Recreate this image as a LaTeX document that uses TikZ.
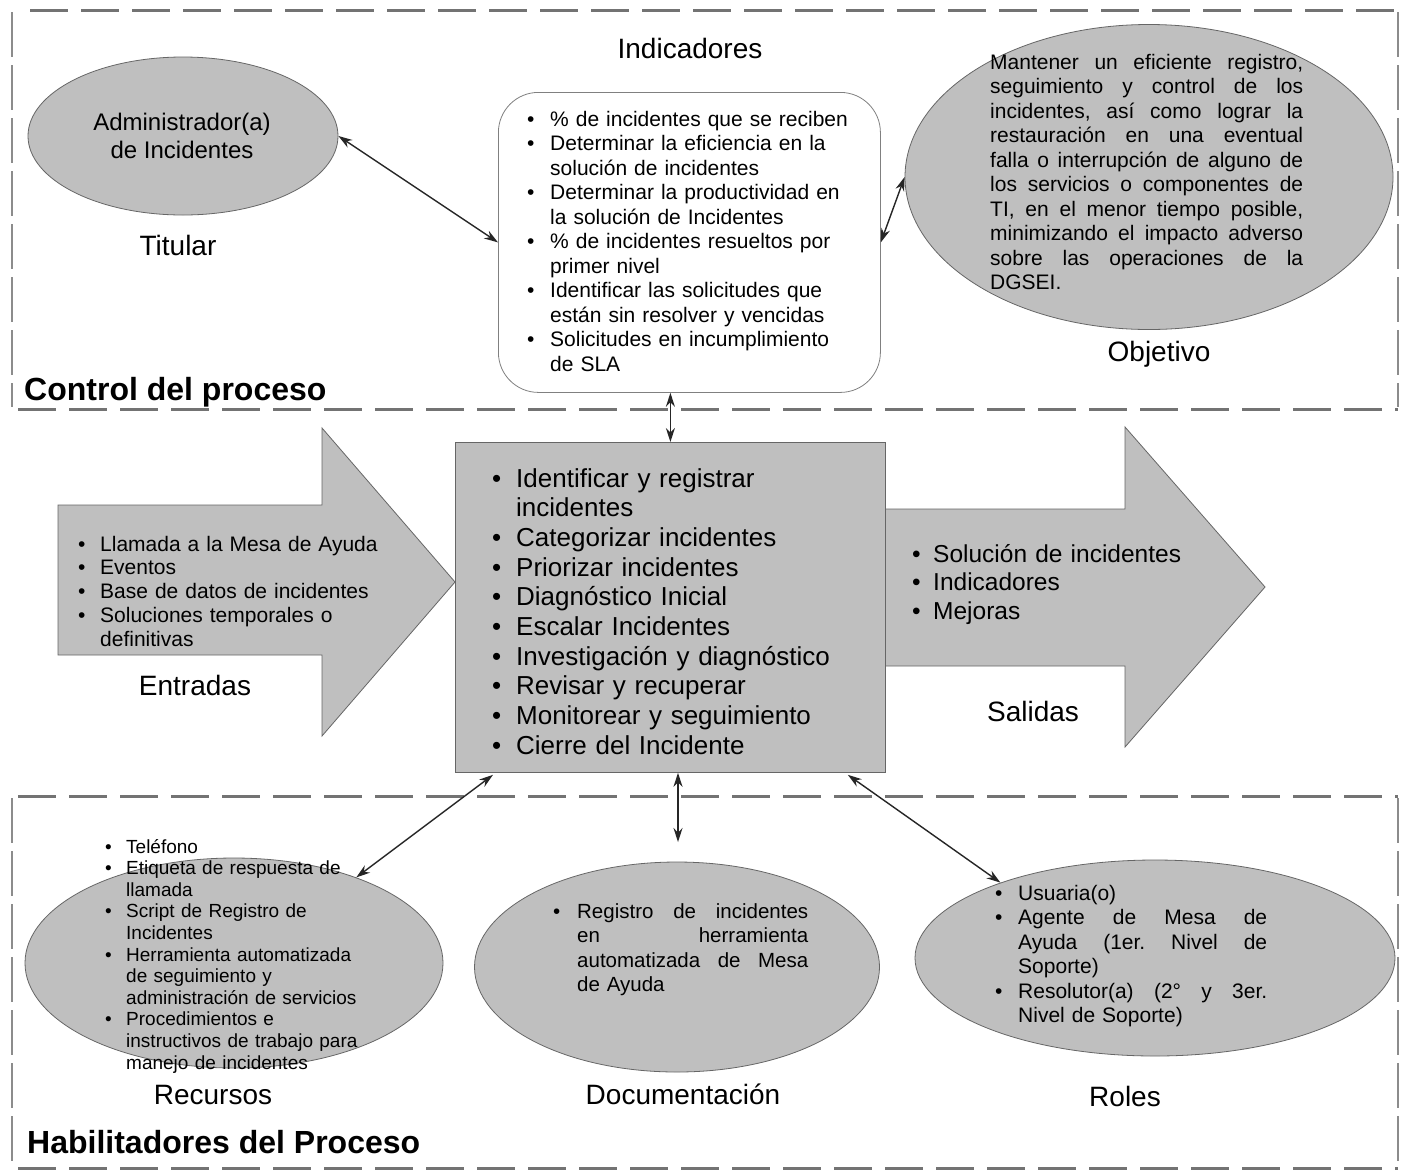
\documentclass[tikz,border=0pt]{standalone}
\usepackage{fontspec}
\setmainfont{Liberation Sans}
\usetikzlibrary{arrows.meta,shapes.geometric,calc}
\newcommand\bu[1]{\makebox[#1][l]{\textbullet}}
\newcommand\hind[1]{\hspace*{#1}}
\newcommand\fs[2]{\fontsize{#1}{#2}\selectfont}
\newcommand\jline[2]{{\frenchspacing\spaceskip=0pt\relax\xspaceskip=0pt\relax\makebox[#1][s]{#2}}}
\begin{document}
\begin{tikzpicture}[x=1pt,y=-1pt,
  shade/.style={fill=black!25,draw=black!60,line width=0.8pt},
  frameh/.style={draw=black!55,line width=3pt,dash pattern=on 38pt off 13pt},
  framev/.style={draw=black!45,line width=1.6pt,dash pattern=on 45pt off 8pt},
  link/.style={{Stealth[length=14pt,width=9pt]}-{Stealth[length=14pt,width=9pt]},line width=1.4pt,draw=black!85},
  lbl/.style={font=\fs{28}{32},inner sep=0pt},
  txt/.style={inner sep=0pt,anchor=base west,align=left},
  ttl/.style={inner sep=0pt,anchor=base west,font=\bfseries\fs{32}{36}},
]
\useasboundingbox (0,0) rectangle (1407,1171);
\fill[white] (0,0) rectangle (1407,1171);

% ---------- frames
\draw[frameh] (30,10) -- (1398,10);
\draw[frameh] (18,409) -- (1398,409);
\draw[framev] (12,12) -- (12,407);
\draw[framev] (1398,12) -- (1398,407);
\draw[frameh] (18,796) -- (1398,796);
\draw[frameh] (18,1168) -- (1398,1168);
\draw[framev] (12,798) -- (12,1166);
\draw[framev] (1398,798) -- (1398,1166);

% ---------- control section
\node[shade,ellipse,minimum width=310pt,minimum height=158pt,inner sep=0pt] (adm) at (183,136) {};
\node[font=\fs{24}{28},align=center,inner sep=0pt] (admt) at (182,136) {Administrador(a)\\de Incidentes};
\node[lbl] (titl) at (178,245) {Titular};

\node[lbl] (indl) at (690,48) {Indicadores};
\node[draw=black!50,line width=0.8pt,rounded corners=40pt,minimum width=382pt,minimum height=300pt,anchor=north west,inner sep=0pt] (ind) at (498,92) {};
\node[txt,font=\fs{21}{24.5},text width=360pt] (indt) at (527,126) {%
\bu{23pt}\% de incidentes que se reciben\\
\bu{23pt}Determinar la eficiencia en la\\
\hind{23pt}solución de incidentes\\
\bu{23pt}Determinar la productividad en\\
\hind{23pt}la solución de Incidentes\\
\bu{23pt}\% de incidentes resueltos por\\
\hind{23pt}primer nivel\\
\bu{23pt}Identificar las solicitudes que\\
\hind{23pt}están sin resolver y vencidas\\
\bu{23pt}Solicitudes en incumplimiento\\
\hind{23pt}de SLA};

\node[shade,ellipse,minimum width=488pt,minimum height=305pt,inner sep=0pt] (obj) at (1149,177) {};
\node[txt,font=\fs{21}{24.5},text width=330pt] (objt) at (990,69) {%
\jline{313pt}{Mantener un eficiente registro,}\\
\jline{313pt}{seguimiento y control de los}\\
\jline{313pt}{incidentes, así como lograr la}\\
\jline{313pt}{restauración en una eventual}\\
\jline{313pt}{falla o interrupción de alguno de}\\
\jline{313pt}{los servicios o componentes de}\\
\jline{313pt}{TI, en el menor tiempo posible,}\\
\jline{313pt}{minimizando el impacto adverso}\\
\jline{313pt}{sobre las operaciones de la}\\
DGSEI.};
\node[lbl] (objl) at (1159,354) {Objetivo};

\node[ttl] (ctl) at (24,400) {Control del proceso};

% ---------- process row
\draw[shade] (58,505) -- (322,505) -- (322,428) -- (455,582) -- (322,736) -- (322,655) -- (58,655) -- cycle;
\draw[shade] (885,509) -- (1125,509) -- (1125,427) -- (1265,587) -- (1125,747) -- (1125,666) -- (885,666) -- cycle;
\node[shade,rectangle,minimum width=430pt,minimum height=330pt,anchor=north west,inner sep=0pt] (proc) at (455,442) {};

\node[txt,font=\fs{21}{23.8},text width=320pt] (entt) at (78,551) {%
\bu{22pt}Llamada a la Mesa de Ayuda\\
\bu{22pt}Eventos\\
\bu{22pt}Base de datos de incidentes\\
\bu{22pt}Soluciones temporales o\\
\hind{22pt}definitivas};
\node[lbl] (entl) at (195,685) {Entradas};

\node[txt,font=\fs{26}{29.7},text width=420pt] (proct) at (492,487) {%
\bu{24pt}Identificar y registrar\\
\hind{24pt}incidentes\\
\bu{24pt}Categorizar incidentes\\
\bu{24pt}Priorizar incidentes\\
\bu{24pt}Diagnóstico Inicial\\
\bu{24pt}Escalar Incidentes\\
\bu{24pt}Investigación y diagnóstico\\
\bu{24pt}Revisar y recuperar\\
\bu{24pt}Monitorear y seguimiento\\
\bu{24pt}Cierre del Incidente};

\node[txt,font=\fs{24.5}{28.5},text width=320pt] (salt) at (912,562) {%
\bu{21pt}Solución de incidentes\\
\bu{21pt}Indicadores\\
\bu{21pt}Mejoras};
\node[lbl] (sall) at (1033,711) {Salidas};

% ---------- enablers
\node[shade,ellipse,minimum width=418pt,minimum height=210pt,inner sep=0pt] (rec) at (234,963) {};
\node[shade,ellipse,minimum width=405pt,minimum height=210pt,inner sep=0pt] (doc) at (677,967) {};
\node[shade,ellipse,minimum width=480pt,minimum height=196pt,inner sep=0pt] (rol) at (1155,958) {};

\node[txt,font=\fs{19}{21.6},text width=320pt] (rect) at (105,853) {%
\bu{21pt}Teléfono\\
\bu{21pt}Etiqueta de respuesta de\\
\hind{21pt}llamada\\
\bu{21pt}Script de Registro de\\
\hind{21pt}Incidentes\\
\bu{21pt}Herramienta automatizada\\
\hind{21pt}de seguimiento y\\
\hind{21pt}administración de servicios\\
\bu{21pt}Procedimientos e\\
\hind{21pt}instructivos de trabajo para\\
\hind{21pt}manejo de incidentes};
\node[lbl] (recl) at (213,1095) {Recursos};

\node[txt,font=\fs{20.5}{24.5},text width=300pt] (doct) at (553,918) {%
\bu{24pt}\jline{231pt}{Registro de incidentes}\\
\hind{24pt}\jline{231pt}{en herramienta}\\
\hind{24pt}\jline{231pt}{automatizada de Mesa}\\
\hind{24pt}de Ayuda};
\node[lbl] (docl) at (683,1094) {Documentación};

\node[txt,font=\fs{21}{24.5},text width=320pt] (rolt) at (995,900) {%
\bu{23pt}Usuaria(o)\\
\bu{23pt}\jline{249pt}{Agente de Mesa de}\\
\hind{23pt}\jline{249pt}{Ayuda (1er. Nivel de}\\
\hind{23pt}Soporte)\\
\bu{23pt}\jline{249pt}{Resolutor(a) (2° y 3er.}\\
\hind{23pt}Nivel de Soporte)};
\node[lbl] (roll) at (1125,1096) {Roles};

\node[ttl] (hab) at (27,1153) {Habilitadores del Proceso};

% ---------- connectors
\coordinate (docTop) at (678,842);
\draw[link] (adm.east) -- (ind.west);
\draw[link] (ind.east) -- (obj.west);
\draw[link] (ind.south -| proc.north) -- (proc.north);
\draw[link] ($(proc.south west)+(38,2)$) -- (rec.35);
\draw[link] (proc.south -| docTop) -- (docTop);
\draw[link] ($(proc.south east)+(-38,2)$) -- (rol.154);
\end{tikzpicture}
\end{document}
